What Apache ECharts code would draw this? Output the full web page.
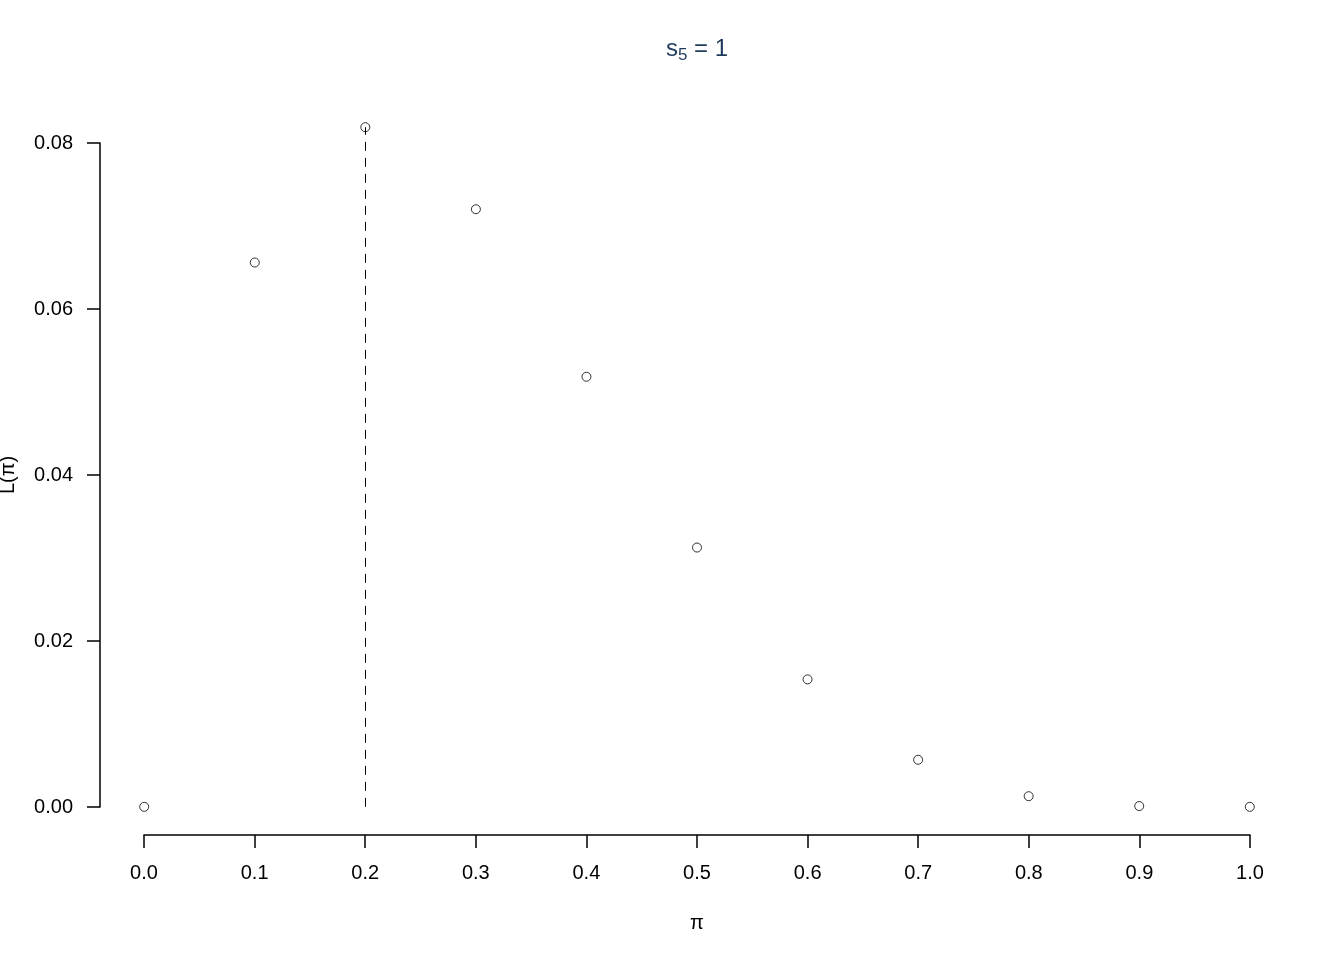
<!DOCTYPE html>
<html>
<head>
<meta charset="utf-8">
<script src="https://cdn.jsdelivr.net/npm/echarts@6/dist/echarts.min.js"></script>
<style>
  html, body { margin: 0; padding: 0; background: #fff; }
  #chart { width: 1344px; height: 960px; }
</style>
</head>
<body>
<div id="chart"></div>
<script>
// data
const piValues = [0.0, 0.1, 0.2, 0.3, 0.4, 0.5, 0.6, 0.7, 0.8, 0.9, 1.0];
const likelihood = [0, 0.06561, 0.08192, 0.07203, 0.05184, 0.03125, 0.01536, 0.00567, 0.00128, 0.00009, 0];
const xTicks = [0.0, 0.1, 0.2, 0.3, 0.4, 0.5, 0.6, 0.7, 0.8, 0.9, 1.0];
const yTicks = [0.00, 0.02, 0.04, 0.06, 0.08];

const points = piValues.map((p, i) => [p, likelihood[i]]);
// maximum of the likelihood, marked with a dashed line
let maxIdx = 0;
likelihood.forEach((v, i) => { if (v > likelihood[maxIdx]) maxIdx = i; });

// R pads the plot region by 4% of the data range
const xPad = (xTicks[xTicks.length - 1] - xTicks[0]) * 0.04;
const yPad = likelihood[maxIdx] * 0.04;

const font = "'Liberation Sans', Arial, Helvetica, sans-serif";
const titleColor = '#1f3b5c';
const chart = echarts.init(document.getElementById('chart'));

chart.setOption({
  animation: false,
  textStyle: { fontFamily: font },
  // title centred over the plot region, with subscript
  graphic: [{
    type: 'text',
    x: 697,
    y: 49,
    style: {
      text: '{s|s}{sub|5}{s| = 1}',
      align: 'center',
      verticalAlign: 'middle',
      fontFamily: 'Liberation Sans',
      fontSize: 24,
      rich: {
        s: { fontSize: 24, fill: titleColor, fontFamily: 'Liberation Sans' },
        sub: { fontSize: 17, fill: titleColor, fontFamily: 'Liberation Sans', padding: [12, 0, 0, 0] }
      }
    }
  }],
  grid: [
    // plot region (data space)
    { left: 100, right: 50, top: 100, bottom: 126, outerBoundsMode: 'none' },
    // region spanned by the ticks, only used to draw the detached axes
    { left: 144, right: 94, top: 143, bottom: 153, outerBoundsMode: 'none' }
  ],
  xAxis: [
    {
      gridIndex: 0, type: 'value', show: false,
      min: xTicks[0] - xPad, max: xTicks[xTicks.length - 1] + xPad
    },
    {
      gridIndex: 1, type: 'value', position: 'bottom', offset: 28,
      min: xTicks[0], max: xTicks[xTicks.length - 1], interval: 0.1,
      name: 'π', nameLocation: 'middle', nameGap: 78, nameMoveOverlap: false,
      nameTextStyle: { fontSize: 20, color: '#000', fontFamily: font },
      axisLine: { show: true, onZero: false, lineStyle: { color: '#000', width: 1.5 } },
      axisTick: { show: true, length: 13, lineStyle: { color: '#000', width: 1.5 } },
      axisLabel: {
        fontSize: 20, color: '#000', margin: 28, fontFamily: font,
        formatter: v => v.toFixed(1)
      },
      splitLine: { show: false }
    }
  ],
  yAxis: [
    {
      gridIndex: 0, type: 'value', show: false,
      min: -yPad, max: likelihood[maxIdx] + yPad
    },
    {
      gridIndex: 1, type: 'value', position: 'left', offset: 44,
      min: yTicks[0], max: yTicks[yTicks.length - 1], interval: 0.02,
      name: 'L(π)', nameLocation: 'middle', nameGap: 82, nameRotate: 90, nameMoveOverlap: false,
      nameTextStyle: { fontSize: 20, color: '#000', fontFamily: font },
      axisLine: { show: true, onZero: false, lineStyle: { color: '#000', width: 1.5 } },
      axisTick: { show: true, length: 13, lineStyle: { color: '#000', width: 1.5 } },
      axisLabel: {
        fontSize: 20, color: '#000', margin: 27, fontFamily: font,
        formatter: v => v.toFixed(2)
      },
      splitLine: { show: false }
    }
  ],
  series: [
    {
      type: 'scatter',
      xAxisIndex: 0, yAxisIndex: 0,
      data: points,
      symbol: 'circle',
      symbolSize: 9,
      itemStyle: { color: '#fff', borderColor: '#000', borderWidth: 1 },
      emphasis: { disabled: true },
      markLine: {
        silent: true,
        symbol: 'none',
        label: { show: false },
        lineStyle: { color: '#000', width: 1, type: [9, 7] },
        data: [[
          { coord: [piValues[maxIdx], 0] },
          { coord: [piValues[maxIdx], likelihood[maxIdx]] }
        ]]
      },
      z: 3
    }
  ]
});
</script>
</body>
</html>
